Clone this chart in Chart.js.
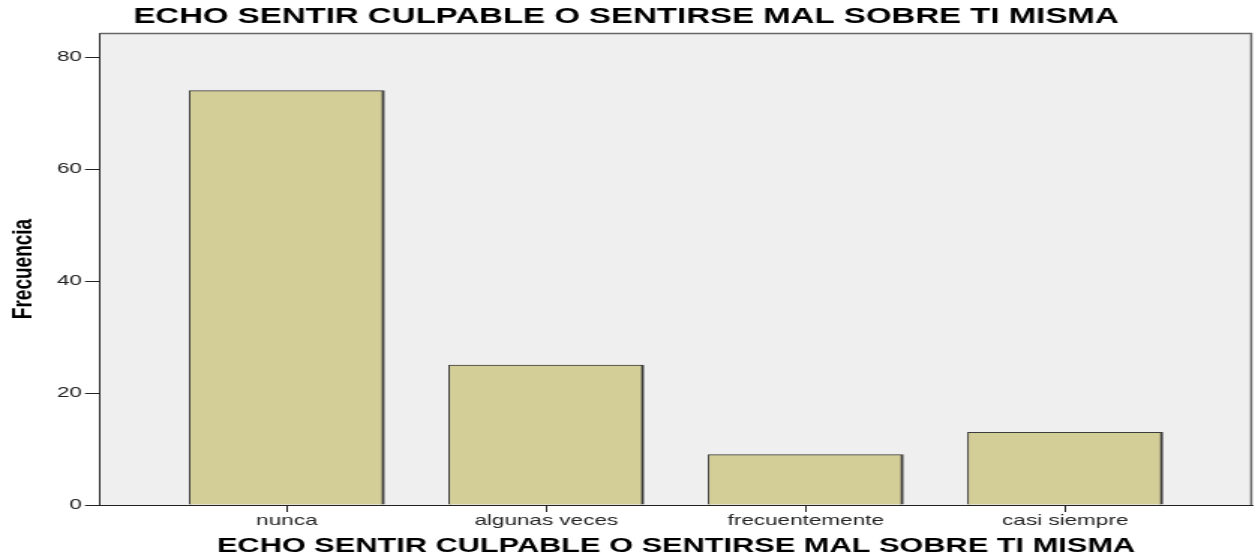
<!DOCTYPE html>
<html>
<head>
<meta charset="utf-8">
<script src="https://cdn.jsdelivr.net/npm/chart.js@4/dist/chart.umd.min.js"></script>
<style>
  html, body { margin: 0; padding: 0; background: #fff; overflow: hidden; }
  #chart { display: block; transform-origin: 0 0; transform: scaleX(1.4994); }
</style>
</head>
<body>
<canvas id="chart" width="839" height="559"></canvas>
<script>
var categories = ['nunca', 'algunas veces', 'frecuentemente', 'casi siempre'];
var frecuencia = [74, 25, 9, 13];
var yTicks = [0, 20, 40, 60, 80];
var titulo = 'ECHO SENTIR CULPABLE O SENTIRSE MAL SOBRE TI MISMA';

// the original picture is stretched sideways, so the canvas is drawn narrow and scaled in css
var plotBg = {
  id: 'plotBg',
  beforeDraw: function(chart){
    var a = chart.chartArea, ctx = chart.ctx;
    ctx.save();
    ctx.fillStyle = '#efefef';
    ctx.fillRect(a.left, a.top, a.right - a.left, a.bottom - a.top);
    ctx.restore();
  },
  afterDraw: function(chart){
    var a = chart.chartArea, ctx = chart.ctx;
    ctx.save();
    ctx.strokeStyle = '#666';
    ctx.lineWidth = 1.5;
    ctx.beginPath();
    ctx.moveTo(a.left, a.top + 0.5);
    ctx.lineTo(a.right - 0.5, a.top + 0.5);
    ctx.lineTo(a.right - 0.5, a.bottom);
    ctx.stroke();
    ctx.restore();
  }
};

var points = frecuencia.map(function(v, i){ return {x: i, y: v}; });

new Chart(document.getElementById('chart'), {
  type: 'bar',
  data: {
    datasets: [{
      data: points,
      backgroundColor: '#d3cd98',
      borderColor: '#3c3c3c',
      borderWidth: {left: 1, right: 2, top: 1, bottom: 0},
      borderSkipped: false,
      barThickness: 130
    }]
  },
  plugins: [plotBg],
  options: {
    responsive: false,
    animation: false,
    layout: { padding: {left: 0, right: 4, top: 0, bottom: 0} },
    plugins: {
      legend: { display: false },
      tooltip: { enabled: false },
      title: {
        display: true,
        text: titulo,
        color: '#000',
        font: { family: 'Arial, "Liberation Sans", sans-serif', size: 22, weight: 'bold' },
        padding: { top: 3.5, bottom: 3.1 }
      }
    },
    scales: {
      x: {
        type: 'linear',
        offset: false,
        min: -0.72,
        max: 3.72,
        afterBuildTicks: function(scale){
          scale.ticks = categories.map(function(c, i){ return {value: i}; });
        },
        afterFit: function(scale){ scale.height = 54; },
        ticks: {
          color: '#222',
          font: { family: 'Arial, "Liberation Sans", sans-serif', size: 15 },
          padding: 0,
          maxRotation: 0,
          autoSkip: false,
          callback: function(v){ return categories[v]; }
        },
        grid: { offset: false, drawOnChartArea: false, tickLength: 7, color: '#222' },
        border: { color: '#222', width: 1 },
        title: {
          display: true,
          text: titulo,
          color: '#000',
          font: { family: 'Arial, "Liberation Sans", sans-serif', size: 20.5, weight: 'bold' },
          padding: { top: 0, bottom: 0 }
        }
      },
      y: {
        min: 0,
        max: 84.3,
        afterBuildTicks: function(scale){
          scale.ticks = yTicks.map(function(v){ return {value: v}; });
        },
        afterFit: function(scale){ scale.width = 66.7; },
        ticks: {
          color: '#222',
          font: { family: 'Arial, "Liberation Sans", sans-serif', size: 15 },
          padding: 2
        },
        grid: { drawOnChartArea: false, tickLength: 10, color: '#222' },
        border: { color: '#222', width: 1 },
        title: {
          display: true,
          text: 'Frecuencia',
          color: '#000',
          font: { family: '"Liberation Sans Narrow", "Arial Narrow", Arial, sans-serif', size: 19, weight: 'bold' },
          padding: { top: 4, bottom: 0 }
        }
      }
    }
  }
});
</script>
</body>
</html>
